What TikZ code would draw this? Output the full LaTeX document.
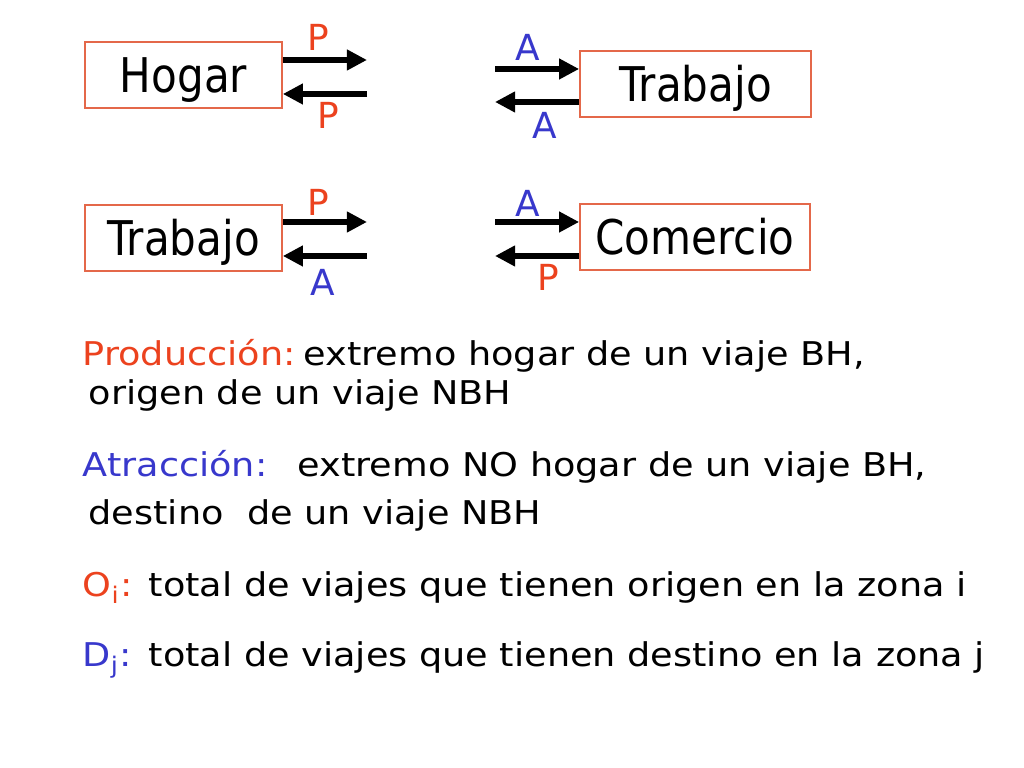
\documentclass[tikz,border=0pt]{standalone}
\usepackage{fontspec}
\setmainfont[FakeStretch=1.12]{DejaVu Sans}
\newfontfamily\bigfont[FakeStretch=0.88]{DejaVu Sans}
\newfontfamily\labfont{DejaVu Sans}
\usetikzlibrary{arrows.meta}
\definecolor{pred}{RGB}{236,66,30}
\definecolor{ablue}{RGB}{56,56,204}
\definecolor{boxline}{RGB}{228,104,74}
\tikzset{
  place/.style={draw=boxline, line width=0.45pt, inner sep=0pt,
    minimum height=0.66cm, text height=9.7pt, text depth=0pt,
    font=\bigfont\fontsize{13.6pt}{16pt}\selectfont},
  flow/.style={line width=1.7pt, -{Triangle[length=5.7pt,width=5.6pt]}},
  plab/.style={text=pred, inner sep=0pt, font=\labfont\fontsize{10.2pt}{12pt}\selectfont},
  alab/.style={text=ablue, inner sep=0pt, font=\labfont\fontsize{10.2pt}{12pt}\selectfont},
  body/.style={anchor=base west, inner sep=0pt, font=\fontsize{9.3pt}{11pt}\selectfont}
}
\begin{document}
\begin{tikzpicture}[x=0.01cm, y=-0.01cm]
\fill[white] (0,0) rectangle (1024,768);
\useasboundingbox (0,0) rectangle (1024,768);

% boxes
\node[place, minimum width=1.97cm] (hogar) at (183.5,75) {Hogar};
\node[place, minimum width=2.31cm] (trab1) at (695.5,84) {Trabajo};
\node[place, minimum width=1.97cm] (trab2) at (183.5,238) {Trabajo};
\node[place, minimum width=2.30cm] (comer) at (695,237) {Comercio};

% free ends
\coordinate (h1) at (367,60);
\coordinate (h2) at (367,94);
\coordinate (t1) at (495,69);
\coordinate (t2) at (495,102);
\coordinate (w1) at (367,222);
\coordinate (w2) at (367,256);
\coordinate (c1) at (495,222);
\coordinate (c2) at (495,256);

% arrows
\draw[flow] (hogar.east |- h1) -- (h1);
\draw[flow] (h2) -- (hogar.east |- h2);
\draw[flow] (t1) -- (trab1.west |- t1);
\draw[flow] (trab1.west |- t2) -- (t2);
\draw[flow] (trab2.east |- w1) -- (w1);
\draw[flow] (w2) -- (trab2.east |- w2);
\draw[flow] (c1) -- (comer.west |- c1);
\draw[flow] (comer.west |- c2) -- (c2);

% arrow labels
\node[plab] (lp1) at (318,37) {P};
\node[plab] (lp2) at (328,115) {P};
\node[alab] (la1) at (528,47) {A};
\node[alab] (la2) at (545,125) {A};
\node[plab] (lp3) at (318,202) {P};
\node[alab] (la3) at (323,282) {A};
\node[alab] (la4) at (528,203) {A};
\node[plab] (lp4) at (548,277) {P};

% definitions
\node[body, text=pred] (prod) at (82,366) {Producción:};
\node[body] (prodt) at (303,366) {extremo hogar de un viaje BH,};
\node[body] (prodt2) at (88,405) {origen de un viaje NBH};
\node[body, text=ablue] (atr) at (82,477) {Atracción:};
\node[body] (atrt) at (297,477) {extremo NO hogar de un viaje BH,};
\node[body] (atrt2) at (88,525) {destino\ \ de un viaje NBH};
\node[body, text=pred] (oi) at (82,597) {O\textsubscript{i}:};
\node[body] (oit) at (148,597) {total de viajes que tienen origen en la zona i};
\node[body, text=ablue] (dj) at (82,667) {D\textsubscript{j}:};
\node[body] (djt) at (148,667) {total de viajes que tienen destino en la zona j};
\end{tikzpicture}
\end{document}
